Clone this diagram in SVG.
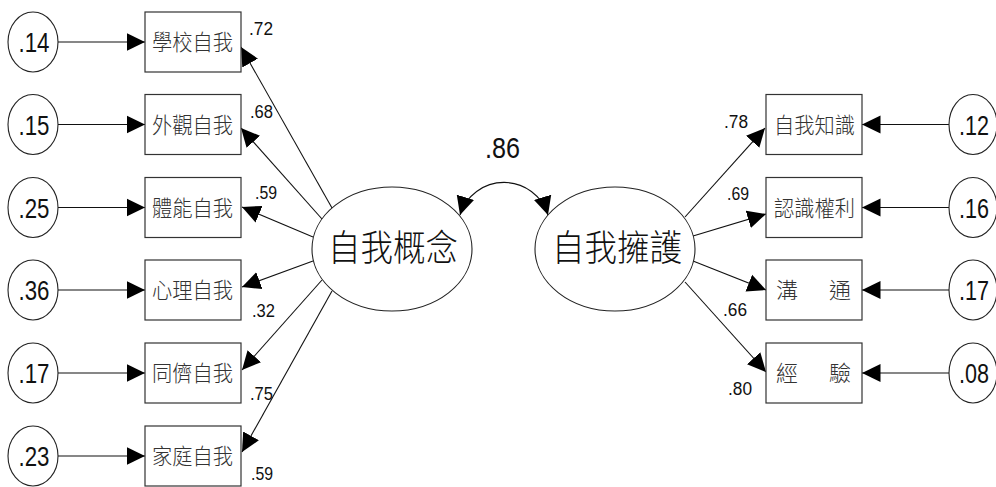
<svg xmlns="http://www.w3.org/2000/svg" width="996" height="487" viewBox="0 0 996 487">
<defs>
<marker id="ah" markerUnits="userSpaceOnUse" markerWidth="19" markerHeight="19" viewBox="0 0 19 19" refX="18.5" refY="9.5" orient="auto-start-reverse">
<path d="M0,0.5 L18.5,9.5 L0,18.5 z" fill="#000"/>
</marker>
<style>
.box{fill:#fff;stroke:#333;stroke-width:1.2}
.err{fill:#fff;stroke:#222;stroke-width:1.1}
.lat{fill:#fff;stroke:#222;stroke-width:1.1}
.ln{fill:none;stroke:#111;stroke-width:1.1}
.cjk{font-family:"Noto Sans CJK TC","Noto Sans CJK SC",sans-serif;font-size:22px;fill:#333;font-weight:300}
.big{font-family:"Noto Sans CJK TC","Noto Sans CJK SC",sans-serif;font-size:36px;fill:#111;font-weight:300}
.num{font-family:"Liberation Sans Narrow","Liberation Sans",Arial,sans-serif;fill:#111}
.s{font-size:18px}
.m{font-size:28px;text-anchor:middle}
.l{font-size:30px}
</style>
</defs>

<g id="connectors">
<path class="ln" d="M58,42 L145,42" marker-end="url(#ah)"/>
<path class="ln" d="M58,124.5 L145,124.5" marker-end="url(#ah)"/>
<path class="ln" d="M58,207.5 L145,207.5" marker-end="url(#ah)"/>
<path class="ln" d="M58,290 L145,290" marker-end="url(#ah)"/>
<path class="ln" d="M58,373 L145,373" marker-end="url(#ah)"/>
<path class="ln" d="M58,456 L145,456" marker-end="url(#ah)"/>
<path class="ln" d="M332,208 L241,47" marker-end="url(#ah)"/>
<path class="ln" d="M322,219 L241,128" marker-end="url(#ah)"/>
<path class="ln" d="M313,237 L242,207" marker-end="url(#ah)"/>
<path class="ln" d="M313,261 L242,287" marker-end="url(#ah)"/>
<path class="ln" d="M322,280 L242,370" marker-end="url(#ah)"/>
<path class="ln" d="M332,291 L242,452" marker-end="url(#ah)"/>
<path class="ln" d="M685,217 L765,128" marker-end="url(#ah)"/>
<path class="ln" d="M693,236 L766,214" marker-end="url(#ah)"/>
<path class="ln" d="M693,261 L766,290" marker-end="url(#ah)"/>
<path class="ln" d="M685,282 L766,372" marker-end="url(#ah)"/>
<path class="ln" d="M949,124.5 L862,124.5" marker-end="url(#ah)"/>
<path class="ln" d="M949,207.5 L862,207.5" marker-end="url(#ah)"/>
<path class="ln" d="M949,290 L862,290" marker-end="url(#ah)"/>
<path class="ln" d="M949,373 L862,373" marker-end="url(#ah)"/>
<path class="ln" d="M460,215 A46,46 0 0 1 548,215" marker-start="url(#ah)" marker-end="url(#ah)"/>
<text class="num l" x="485" y="158" textLength="35" lengthAdjust="spacingAndGlyphs">.86</text>
<text class="num s" x="249" y="35" textLength="24" lengthAdjust="spacingAndGlyphs">.72</text>
<text class="num s" x="250" y="118" textLength="23" lengthAdjust="spacingAndGlyphs">.68</text>
<text class="num s" x="255" y="199" textLength="22" lengthAdjust="spacingAndGlyphs">.59</text>
<text class="num s" x="252" y="317" textLength="23" lengthAdjust="spacingAndGlyphs">.32</text>
<text class="num s" x="250" y="400" textLength="23" lengthAdjust="spacingAndGlyphs">.75</text>
<text class="num s" x="251" y="480" textLength="22" lengthAdjust="spacingAndGlyphs">.59</text>
<text class="num s" x="724" y="128" textLength="24" lengthAdjust="spacingAndGlyphs">.78</text>
<text class="num s" x="727" y="200" textLength="22" lengthAdjust="spacingAndGlyphs">.69</text>
<text class="num s" x="723" y="316" textLength="24" lengthAdjust="spacingAndGlyphs">.66</text>
<text class="num s" x="728" y="395" textLength="24" lengthAdjust="spacingAndGlyphs">.80</text>
</g>

<g id="e1"><ellipse class="err" cx="33" cy="42" rx="25" ry="30"/><text class="num m" x="34" y="52" textLength="31" lengthAdjust="spacingAndGlyphs">.14</text></g>
<g id="e2"><ellipse class="err" cx="33" cy="124.5" rx="25" ry="30"/><text class="num m" x="34" y="134.5" textLength="31" lengthAdjust="spacingAndGlyphs">.15</text></g>
<g id="e3"><ellipse class="err" cx="33" cy="207.5" rx="25" ry="30"/><text class="num m" x="34" y="217.5" textLength="31" lengthAdjust="spacingAndGlyphs">.25</text></g>
<g id="e4"><ellipse class="err" cx="33" cy="290" rx="25" ry="30"/><text class="num m" x="34" y="300" textLength="31" lengthAdjust="spacingAndGlyphs">.36</text></g>
<g id="e5"><ellipse class="err" cx="33" cy="373" rx="25" ry="30"/><text class="num m" x="34" y="383" textLength="31" lengthAdjust="spacingAndGlyphs">.17</text></g>
<g id="e6"><ellipse class="err" cx="33" cy="456" rx="25" ry="30"/><text class="num m" x="34" y="466" textLength="31" lengthAdjust="spacingAndGlyphs">.23</text></g>

<g id="e7"><ellipse class="err" cx="973" cy="124.5" rx="24" ry="30"/><text class="num m" x="974" y="134.5" textLength="30" lengthAdjust="spacingAndGlyphs">.12</text></g>
<g id="e8"><ellipse class="err" cx="973" cy="207.5" rx="24" ry="30"/><text class="num m" x="974" y="217.5" textLength="30" lengthAdjust="spacingAndGlyphs">.16</text></g>
<g id="e9"><ellipse class="err" cx="973" cy="290" rx="24" ry="30"/><text class="num m" x="974" y="300" textLength="30" lengthAdjust="spacingAndGlyphs">.17</text></g>
<g id="e10"><ellipse class="err" cx="973" cy="373" rx="24" ry="30"/><text class="num m" x="974" y="383" textLength="30" lengthAdjust="spacingAndGlyphs">.08</text></g>

<g id="v1"><rect class="box" x="145" y="12" width="96" height="60"/><text class="cjk" x="152" y="50" textLength="81" lengthAdjust="spacingAndGlyphs">學校自我</text></g>
<g id="v2"><rect class="box" x="145" y="94.5" width="96" height="60"/><text class="cjk" x="152" y="132.5" textLength="81" lengthAdjust="spacingAndGlyphs">外觀自我</text></g>
<g id="v3"><rect class="box" x="145" y="177.5" width="96" height="60"/><text class="cjk" x="152" y="215.5" textLength="81" lengthAdjust="spacingAndGlyphs">體能自我</text></g>
<g id="v4"><rect class="box" x="145" y="260" width="96" height="60"/><text class="cjk" x="152" y="298" textLength="81" lengthAdjust="spacingAndGlyphs">心理自我</text></g>
<g id="v5"><rect class="box" x="145" y="343" width="96" height="60"/><text class="cjk" x="152" y="381" textLength="81" lengthAdjust="spacingAndGlyphs">同儕自我</text></g>
<g id="v6"><rect class="box" x="145" y="426" width="96" height="60"/><text class="cjk" x="152" y="464" textLength="81" lengthAdjust="spacingAndGlyphs">家庭自我</text></g>

<g id="v7"><rect class="box" x="766" y="94.5" width="96" height="60"/><text class="cjk" x="774" y="132.5" textLength="81" lengthAdjust="spacingAndGlyphs">自我知識</text></g>
<g id="v8"><rect class="box" x="766" y="177.5" width="96" height="60"/><text class="cjk" x="774" y="215.5" textLength="81" lengthAdjust="spacingAndGlyphs">認識權利</text></g>
<g id="v9"><rect class="box" x="766" y="260" width="96" height="60"/><text class="cjk" y="298"><tspan x="776">溝</tspan><tspan x="829">通</tspan></text></g>
<g id="v10"><rect class="box" x="766" y="343" width="96" height="60"/><text class="cjk" y="381"><tspan x="776">經</tspan><tspan x="829">驗</tspan></text></g>

<g id="f1"><ellipse class="lat" cx="392" cy="249" rx="80" ry="62"/><text class="big" x="328" y="261" textLength="130" lengthAdjust="spacingAndGlyphs">自我概念</text></g>
<g id="f2"><ellipse class="lat" cx="615" cy="249" rx="80" ry="62"/><text class="big" x="552" y="261" textLength="130" lengthAdjust="spacingAndGlyphs">自我擁護</text></g>
</svg>
